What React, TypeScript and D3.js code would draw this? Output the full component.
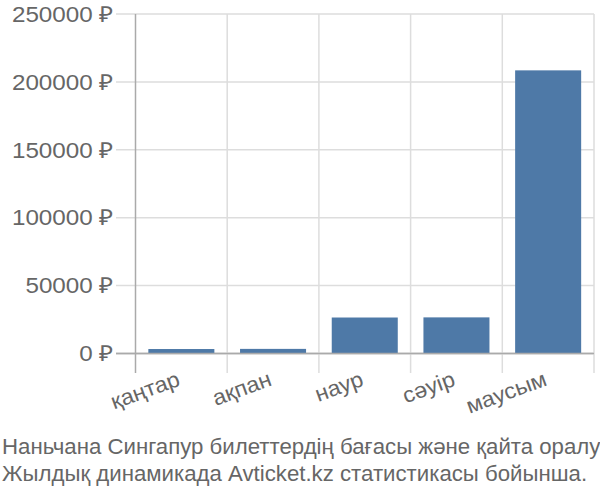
import React from "react";
import * as d3 from "d3";

const categories = ["қаңтар", "ақпан", "наур", "сәуір", "маусым"];
const prices = [3300, 3400, 26500, 26600, 208500];
const yTicks = [0, 50000, 100000, 150000, 200000, 250000];
const titleLines = [
  "Наньчана Сингапур билеттердің бағасы және қайта оралу",
  "Жылдық динамикада Avticket.kz статистикасы бойынша.",
];

const W = 600, H = 500;
const left = 135.5, right = 594, top = 14, bottom = 353.5;
const FONT = "'Liberation Sans', Arial, sans-serif";

export default function App() {
  const x = d3.scaleBand<string>().domain(categories).range([left, right]).padding(0);
  const y = d3.scaleLinear().domain([0, 250000]).range([bottom, top]);
  const bw = x.bandwidth();
  const boundaries = categories.map((c) => x(c)!).concat([right]);
  return (
    <svg width={W} height={H} style={{ position: "absolute", left: 0, top: 0, background: "#fff" }} fontFamily={FONT}>
      {yTicks.map((t) => (
        <line key={"g" + t} x1={116} x2={right} y1={y(t)} y2={y(t)} stroke={t === 0 ? "#aaa" : "#ddd"} strokeWidth={1.5} />
      ))}
      {boundaries.map((b, i) => (
        <line key={"v" + i} x1={b} x2={b} y1={top} y2={373} stroke={i === 0 ? "#aaa" : "#ddd"} strokeWidth={1.5} />
      ))}
      {categories.map((c, i) => (
        <rect key={c} x={x(c)! + bw * 0.14} width={bw * 0.72} y={y(prices[i])} height={y(0) - y(prices[i])} fill="#4e79a7" />
      ))}
      <line x1={116} x2={right} y1={y(0)} y2={y(0)} stroke="#aaa" strokeWidth={1.5} />
      {yTicks.map((t) => (
        <text key={"t" + t} transform={`translate(113,${y(t)}) scale(1.1,1)`} dy="0.35em" textAnchor="end" fontSize={22} fill="#666">
          {t + " ₽"}
        </text>
      ))}
      {categories.map((c) => (
        <text key={"l" + c} transform={`translate(${x(c)! + bw / 2},${385}) rotate(-20) scale(1.05,1)`} textAnchor="end" fontSize={22} fill="#666">
          {c}
        </text>
      ))}
      {titleLines.map((l, i) => (
        <text key={"h" + i} transform={`translate(2,${453.5 + i * 27.5}) scale(1.01,1)`} fontSize={22} fill="#666">
          {l}
        </text>
      ))}
    </svg>
  );
}
